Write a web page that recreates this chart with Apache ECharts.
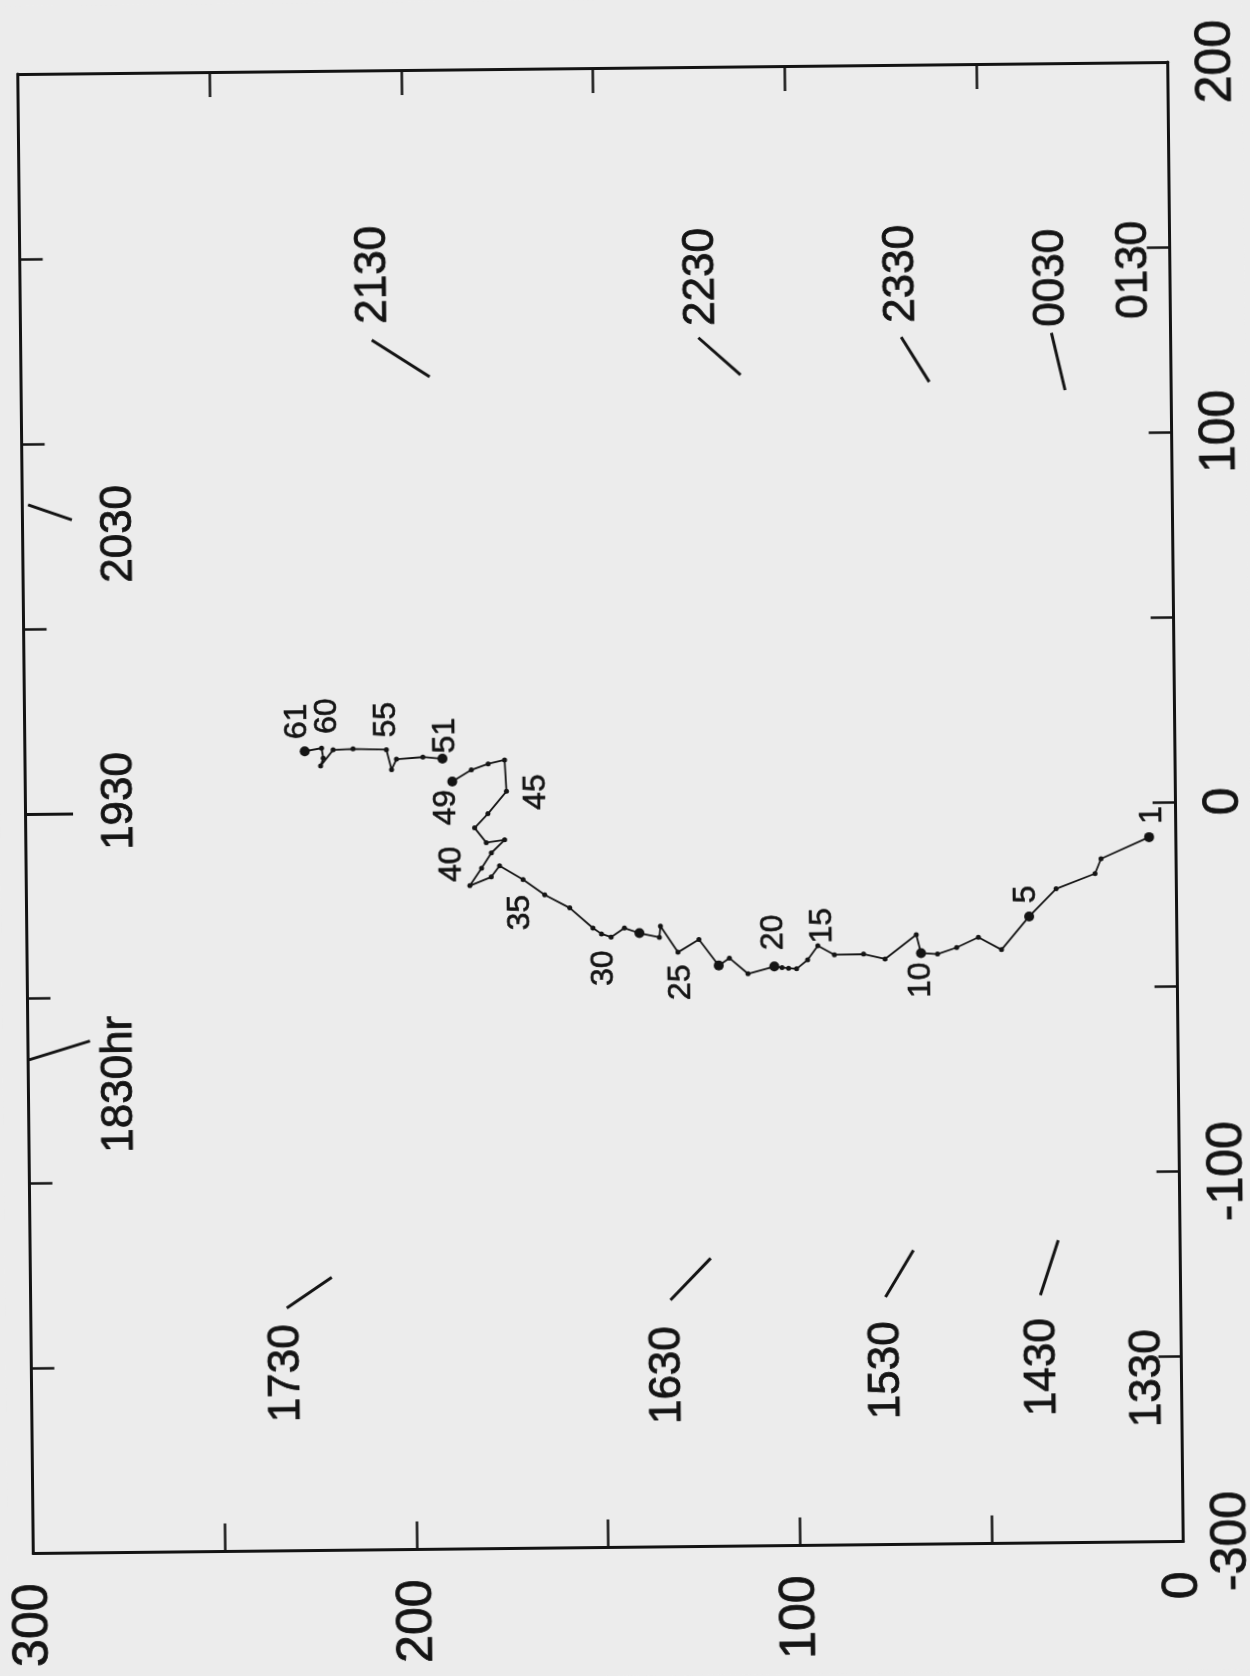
<!DOCTYPE html>
<html>
<head>
<meta charset="utf-8">
<script src="https://cdn.jsdelivr.net/npm/echarts@6/dist/echarts.min.js"></script>
<style>
html,body{margin:0;padding:0;background:#ececec;overflow:hidden;}
#chart{width:1250px;height:1676px;transform:rotate(-0.6deg);transform-origin:601px 808px;}
</style>
</head>
<body>
<div id="chart"></div>
<script>
// ---- track points (numbered) ----
const pointNo = [1,2,3,4,5,6,7,8,9,10,11,12,13,14,15,16,17,18,19,20,
  21,22,23,24,25,26,27,28,29,30,31,32,33,34,35,36,37,38,39,40,
  41,42,43,44,45,46,47,48,49,51,52,53,54,55,56,57,58,59,60,61];
// original horizontal axis (-300..200), drawn on the right-hand vertical axis
const trackEast = [-9.5,-15.2,-19.2,-23.2,-30.6,-39.5,-36.1,-38.8,-40.5,-40.2,
  -35.2,-41.7,-40.3,-40.4,-37.9,-41.7,-44.1,-43.9,-43.7,-43.4,
  -45.3,-41.0,-43.0,-35.9,-39.3,-32.2,-35.2,-34.0,-32.6,-35.0,
  -34.1,-32.5,-27.0,-23.4,-19.2,-15.4,-18.4,-20.7,-16.0,-11.9,
  -8.4,-9.1,-5.1,-1.3,4.7,13.2,12.2,10.6,7.5,
  13.7,14.2,13.7,10.9,16.3,16.6,16.4,12.1,14.2,16.9,16.1];
// original vertical axis (0..300), drawn on the bottom axis
const trackNorth = [7.0,19.6,21.2,31.4,38.5,45.8,51.8,57.5,62.5,66.8,
  68.0,76.2,81.8,89.4,93.7,96.4,99.3,101.4,103.1,105.1,
  112.0,116.8,119.6,124.7,130.2,134.7,135.0,140.2,144.1,147.6,
  150.1,152.3,158.3,164.8,170.4,176.5,178.7,184.3,181.2,178.6,
  175.1,179.9,182.9,179.4,174.5,174.9,179.2,183.6,188.6,
  191.1,196.2,203.1,204.4,205.7,214.4,219.6,222.9,222.2,222.6,227.0];
const labeledPoints = [1,5,10,15,20,25,30,35,40,45,49,51,55,60,61];
const largeDots = [1,5,10,20,23,28,49,51,61];

// ---- hour annotations ----
const hourText  = ['1330','1430','1530','1630','1730','1830hr','1930','2030','2130','2230','2330','0030','0130'];
const hourNorth = [8.7,36.3,77.0,134.1,233.4,276.1,275.3,274.9,207.7,122.2,70.1,31.0,9.4];
const hourEast  = [-155.8,-152.5,-152.9,-153.6,-152.0,-73.4,3.2,75.4,144.7,143.2,143.5,142.0,143.9];
// short direction strokes beside the hour labels
const strokeHour   = ['1430','1530','1630','1730','1830hr','1930','2030','2130','2230','2330','0030'];
const strokeNorth0 = [36.6,77.0,133.1,233.2,300.0,300.0,298.5,208.4,123.2,70.3,31.1];
const strokeEast0  = [-133.0,-133.1,-133.3,-134.4,-66.6,0,83.5,127.1,126.8,126.4,127.1];
const strokeNorth1 = [31.8,69.6,122.5,221.4,283.8,287.6,287.1,193.4,112.3,63.1,27.7];
const strokeEast1  = [-118.2,-120.5,-122.1,-126.2,-61.6,0,79.3,117.0,116.6,114.2,111.6];

// ---- tick labels ----
const bottomTickValues = [300,200,100,0];
const bottomTickText   = ['300','200','100','0'];
const rightTickValues  = [-200,-100,0,100,200];
const rightTickText    = ['-300','-100','0','100','200'];

// label placement (screen px, relative to the point)
const labelShift = {1:[3,-22],5:[-3,-22],10:[0,27],15:[5,-20],20:[-1,-34],25:[3,30],30:[-8,31],
  35:[-3,33],40:[-40,11],45:[30,1],49:[-6,26],51:[3,-23],55:[0,-30],60:[6,-32],61:[-7,-30]};

const FONT = 'Liberation Sans, Arial, sans-serif';
const INK = '#141414';

function rotOffset(s){ return [-s[1], s[0]]; }

// split track into connected runs (missing numbers break the line)
const runs = [];
let cur = [];
pointNo.forEach((n, i) => {
  if (i > 0 && n - pointNo[i-1] > 1) { runs.push(cur); cur = []; }
  const item = { value: [trackNorth[i], trackEast[i]], no: n,
    symbolSize: largeDots.includes(n) ? 10 : 5 };
  if (labeledPoints.includes(n)) {
    item.label = { show: true, formatter: String(n), position: 'inside', rotate: 90,
      offset: rotOffset(labelShift[n] || [0,-25]), fontSize: 32, color: INK, fontFamily: FONT,
      textBorderColor: INK, textBorderWidth: 0.6 };
  }
  cur.push(item);
});
runs.push(cur);

const trackSeries = runs.map(r => ({
  type: 'line', xAxisIndex: 0, yAxisIndex: 0, data: r,
  showSymbol: true, showAllSymbol: true, symbol: 'circle',
  lineStyle: { color: INK, width: 1.8 }, itemStyle: { color: INK, opacity: 1 },
  label: { show: false }, silent: true, z: 4, clip: false
}));

const hourSeries = {
  type: 'scatter', xAxisIndex: 0, yAxisIndex: 0, silent: true, symbolSize: 1,
  itemStyle: { color: 'rgba(0,0,0,0)', opacity: 1 },
  data: hourText.map((t, i) => ({ value: [hourNorth[i], hourEast[i]], name: t })),
  label: { show: true, formatter: p => p.name, position: 'inside', rotate: 90,
    fontSize: 44, color: INK, opacity: 1, fontFamily: FONT,
    textBorderColor: INK, textBorderWidth: 0.8 },
  clip: false, z: 3
};

const strokeSeries = {
  type: 'lines', coordinateSystem: 'cartesian2d', xAxisIndex: 0, yAxisIndex: 0, silent: true,
  data: strokeHour.map((h, i) => ({ coords: [[strokeNorth0[i], strokeEast0[i]], [strokeNorth1[i], strokeEast1[i]]] })),
  lineStyle: { color: INK, width: 3, opacity: 1, curveness: 0 },
  symbol: 'none', clip: false, z: 3
};

function axisCommon(extra) {
  return Object.assign({
    type: 'value', splitLine: { show: false },
    axisLine: { show: true, onZero: false, lineStyle: { color: INK, width: 3 } },
    axisTick: { show: true, inside: true, length: 26, lineStyle: { color: INK, width: 2.5 } }
  }, extra);
}

const option = {
  backgroundColor: '#ececec',
  animation: false,
  grid: { left: 25.5, right: 73.5, top: 68, bottom: 128.5 },
  xAxis: [
    axisCommon({ min: 0, max: 300, interval: 50, inverse: true, position: 'bottom',
      axisTick: { show: true, inside: true, length: 28, lineStyle: { color: INK, width: 2.5 } },
      axisLabel: { show: true, rotate: 90, margin: 30, fontSize: 50, color: INK, fontFamily: FONT,
        textBorderColor: INK, textBorderWidth: 0.8,
        showMinLabel: true, showMaxLabel: true,
        formatter: v => { const k = bottomTickValues.indexOf(v); return k < 0 ? '' : bottomTickText[k]; } } }),
    axisCommon({ min: 0, max: 300, interval: 50, inverse: true, position: 'top',
      axisTick: { show: true, inside: true, length: 25, lineStyle: { color: INK, width: 2.5 } },
      axisLabel: { show: false } })
  ],
  yAxis: [
    axisCommon({ min: -200, max: 200, interval: 50, position: 'right',
      axisTick: { show: true, inside: true, length: 23, lineStyle: { color: INK, width: 2.5 } },
      axisLabel: { show: true, rotate: 90, margin: 24, fontSize: 50, color: INK, fontFamily: FONT,
        textBorderColor: INK, textBorderWidth: 0.8,
        showMinLabel: true, showMaxLabel: true,
        formatter: v => { const k = rightTickValues.indexOf(v); return k < 0 ? '' : rightTickText[k]; } } }),
    axisCommon({ min: -200, max: 200, interval: 50, position: 'left',
      axisTick: { show: true, inside: true, length: 23, lineStyle: { color: INK, width: 2.5 } },
      axisLabel: { show: false } })
  ],
  series: [strokeSeries, hourSeries].concat(trackSeries)
};

const chart = echarts.init(document.getElementById('chart'), null, { renderer: 'canvas' });
chart.setOption(option);
</script>
</body>
</html>
